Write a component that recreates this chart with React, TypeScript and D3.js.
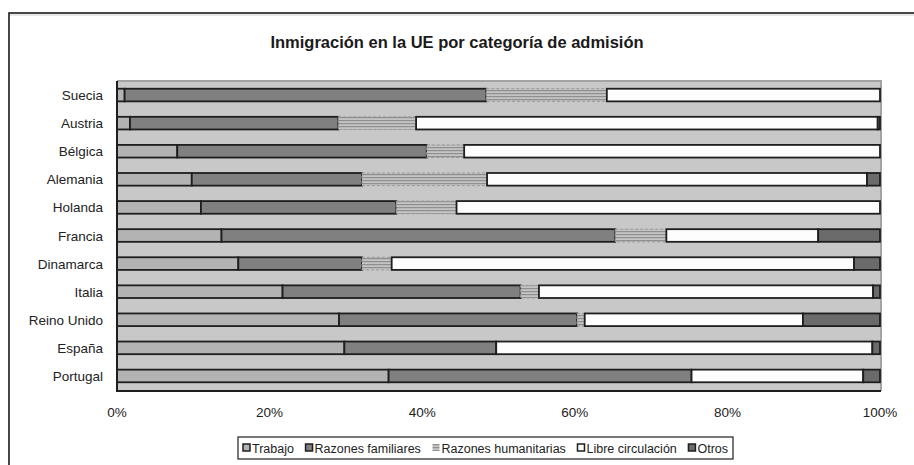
import React from "react";
import * as d3 from "d3";

const categories = ["Suecia", "Austria", "Bélgica", "Alemania", "Holanda", "Francia", "Dinamarca", "Italia", "Reino Unido", "España", "Portugal"];
const seriesNames = ["Trabajo", "Razones familiares", "Razones humanitarias", "Libre circulación", "Otros"];
const trabajo = [1.0, 1.7, 7.9, 9.8, 11.0, 13.7, 15.9, 21.7, 29.1, 29.8, 35.6];
const familiares = [47.4, 27.3, 32.7, 22.3, 25.6, 51.6, 16.2, 31.2, 31.2, 19.9, 39.7];
const humanitarias = [15.8, 10.2, 4.9, 16.4, 7.9, 6.7, 3.9, 2.4, 1.0, 0, 0];
const libre = [35.8, 60.5, 54.5, 49.8, 55.5, 19.9, 60.6, 43.8, 28.6, 49.3, 22.5];
const otros = [0, 0.3, 0, 1.7, 0, 8.1, 3.4, 0.9, 10.1, 1.0, 2.2];
const tickValues = [0, 20, 40, 60, 80, 100];
const title = "Inmigración en la UE por categoría de admisión";

const W = 914;
const H = 465;
const font = "'Liberation Sans', Arial, sans-serif";

const fills = ["#b3b3b3", "#808080", "url(#hum)", "#fdfdfd", "#6b6b6b"];

function measure(text: string, size: number): number {
  if (typeof document === "undefined") return text.length * size * 0.5;
  const c = document.createElement("canvas").getContext("2d");
  if (!c) return text.length * size * 0.5;
  c.font = `${size}px 'Liberation Sans', Arial, sans-serif`;
  return c.measureText(text).width;
}

export default function App() {
  const keys = ["t", "f", "h", "l", "o"];
  const rows = categories.map((c, i) => ({
    cat: c,
    t: trabajo[i],
    f: familiares[i],
    h: humanitarias[i],
    l: libre[i],
    o: otros[i],
  }));
  const stacked = d3.stack<any>().keys(keys)(rows);

  const x = d3.scaleLinear().domain([0, 100]).range([117, 880]);
  const y = d3
    .scaleBand<string>()
    .domain(categories)
    .range([81, 390])
    .paddingInner(0.55)
    .paddingOuter(0.275);

  // legend layout
  const legFont = 12.5;
  const boxL = 238;
  const boxR = 733;
  const pad = 5;
  const sq = 7;
  const sqGap = 2;
  const widths = seriesNames.map((s) => measure(s, legFont));
  const totalItems = widths.reduce((a, b) => a + b + sq + sqGap, 0);
  const gap = (boxR - boxL - 2 * pad - totalItems) / (seriesNames.length - 1);
  let cursor = boxL + pad;
  const legendItems = seriesNames.map((label, i) => {
    const item = { x: cursor, label };
    cursor += sq + sqGap + widths[i] + gap;
    return item;
  });

  return (
    <svg
      width={W}
      height={H}
      style={{ position: "absolute", left: 0, top: 0, background: "#fff" }}
      fontFamily={font}
    >
      <defs>
        <pattern id="hum" patternUnits="userSpaceOnUse" width="4" height="3">
          <rect width="4" height="3" fill="#c4c4c4" />
          <rect width="4" height="1.2" y="0" fill="#8f8f8f" />
        </pattern>
      </defs>
      <rect x={0} y={0} width={W} height={H} fill="#fff" />
      {/* outer frame */}
      <rect x={9} y={13} width={920} height={470} fill="none" stroke="#1a1a1a" strokeWidth={1.6} />
      <line x1={10} x2={914} y1={15} y2={15} stroke="#d0d0d0" strokeWidth={1} />

      <text x={457} y={48} textAnchor="middle" fontSize={16.5} fontWeight="bold" fill="#1a1a1a">
        {title}
      </text>

      {/* plot area */}
      <rect x={117} y={81} width={763} height={309} fill="#c8c8c8" />
      <line x1={117} x2={881} y1={81} y2={81} stroke="#a3a3a3" strokeWidth={2} />
      <line x1={881} x2={881} y1={80} y2={391} stroke="#a3a3a3" strokeWidth={2} />

      {stacked.map((s, si) => (
        <g key={si}>
          {s.map((d, i) => {
            const w = x(d[1]) - x(d[0]);
            if (w <= 0.01) return null;
            const yy = y(categories[i])!;
            const bw = y.bandwidth();
            if (si === 2) {
              return (
                <g key={i}>
                  <rect x={x(d[0])} y={yy} width={w} height={bw} fill="url(#hum)" />
                  <rect
                    x={x(d[0])}
                    y={yy}
                    width={w}
                    height={bw}
                    fill="none"
                    stroke="#9a9a9a"
                    strokeWidth={1}
                    strokeDasharray="3,2"
                  />
                </g>
              );
            }
            return (
              <rect
                key={i}
                x={x(d[0])}
                y={yy}
                width={w}
                height={bw}
                fill={fills[si]}
                stroke="#1e1e1e"
                strokeWidth={1.8}
              />
            );
          })}
        </g>
      ))}

      {/* axes */}
      <line x1={117} x2={117} y1={81} y2={391} stroke="#1e1e1e" strokeWidth={2} />
      <line x1={116} x2={881} y1={391} y2={391} stroke="#1e1e1e" strokeWidth={2} />

      {categories.map((c) => (
        <text
          key={c}
          x={103}
          y={y(c)! + y.bandwidth() / 2 + 5}
          textAnchor="end"
          fontSize={13.5}
          fill="#222"
        >
          {c}
        </text>
      ))}

      {tickValues.map((t) => (
        <text key={t} x={x(t)} y={417} textAnchor="middle" fontSize={13.5} fill="#222">
          {t}%
        </text>
      ))}

      {/* legend */}
      <rect x={boxL} y={437} width={boxR - boxL} height={22} fill="#fff" stroke="#1e1e1e" strokeWidth={1.2} />
      {legendItems.map((it, i) => (
        <g key={i}>
          {i === 2 ? (
            <rect x={it.x} y={444} width={sq} height={sq} fill="url(#hum)" />
          ) : (
            <rect x={it.x} y={444} width={sq} height={sq} fill={fills[i]} stroke="#1e1e1e" strokeWidth={1.5} />
          )}
          <text x={it.x + sq + sqGap} y={452.5} fontSize={legFont} fill="#222">
            {it.label}
          </text>
        </g>
      ))}
    </svg>
  );
}
